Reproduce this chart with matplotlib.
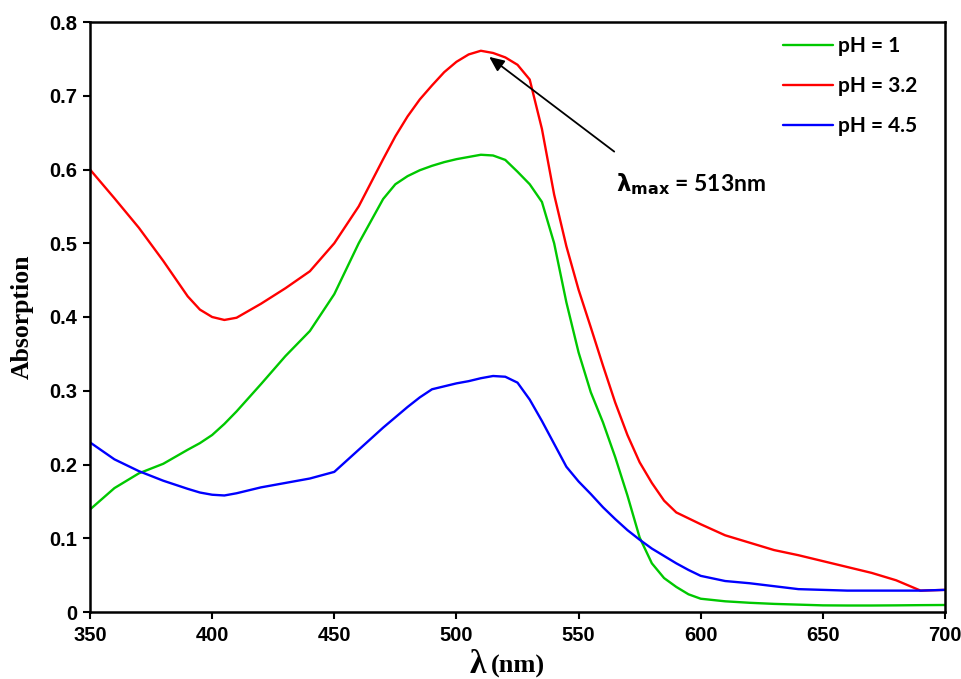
import matplotlib
matplotlib.use("Agg")
import matplotlib.pyplot as plt

wavelength = [350, 360, 370, 380, 390, 395, 400, 405, 410, 420, 430, 440, 450, 460, 465, 470,
              475, 480, 485, 490, 495, 500, 505, 510, 515, 520, 525, 530, 535, 540, 545, 550,
              555, 560, 565, 570, 575, 580, 585, 590, 595, 600, 610, 620, 630, 640, 650, 660,
              670, 680, 690, 700]

ph1 = [0.139, 0.168, 0.188, 0.201, 0.220, 0.229, 0.240, 0.255, 0.272, 0.309, 0.347, 0.381,
       0.431, 0.500, 0.530, 0.560, 0.580, 0.591, 0.599, 0.605, 0.610, 0.614, 0.617, 0.620,
       0.619, 0.613, 0.597, 0.580, 0.556, 0.500, 0.420, 0.352, 0.298, 0.257, 0.210, 0.158,
       0.101, 0.066, 0.046, 0.034, 0.024, 0.018, 0.0145, 0.0125, 0.011, 0.010, 0.009, 0.0088,
       0.0088, 0.009, 0.0093, 0.0095]

ph32 = [0.600, 0.561, 0.521, 0.476, 0.428, 0.410, 0.400, 0.396, 0.399, 0.418, 0.439, 0.462,
        0.500, 0.550, 0.582, 0.614, 0.645, 0.672, 0.695, 0.714, 0.732, 0.746, 0.756, 0.761,
        0.758, 0.752, 0.742, 0.722, 0.655, 0.566, 0.496, 0.437, 0.386, 0.334, 0.284, 0.240,
        0.203, 0.175, 0.151, 0.135, 0.127, 0.119, 0.104, 0.094, 0.084, 0.077, 0.069, 0.061,
        0.053, 0.043, 0.029, 0.030]

ph45 = [0.230, 0.207, 0.191, 0.178, 0.167, 0.162, 0.159, 0.158, 0.161, 0.169, 0.175, 0.181,
        0.190, 0.220, 0.235, 0.250, 0.264, 0.278, 0.291, 0.302, 0.306, 0.310, 0.313, 0.317,
        0.320, 0.319, 0.311, 0.288, 0.259, 0.228, 0.197, 0.177, 0.160, 0.142, 0.126, 0.111,
        0.098, 0.086, 0.076, 0.066, 0.057, 0.049, 0.042, 0.039, 0.035, 0.031, 0.030, 0.029,
        0.029, 0.029, 0.029, 0.030]

series_labels = ["pH = 1", "pH = 3.2", "pH = 4.5"]
series_colors = ["#00C800", "#FF0000", "#0000FF"]

x_ticks = [350, 400, 450, 500, 550, 600, 650, 700]
y_ticks = [0, 0.1, 0.2, 0.3, 0.4, 0.5, 0.6, 0.7, 0.8]
y_tick_labels = ["0", "0.1", "0.2", "0.3", "0.4", "0.5", "0.6", "0.7", "0.8"]

fig = plt.figure(figsize=(9.62, 6.79), dpi=100)
ax = fig.add_axes([90 / 962, 67 / 679, 855 / 962, 590 / 679])

for y, lab, col in zip([ph1, ph32, ph45], series_labels, series_colors):
    ax.plot(wavelength, y, color=col, lw=1.7, label=lab,
            solid_joinstyle="round", solid_capstyle="round")

ax.set_xlim(350, 700)
ax.set_ylim(0, 0.8)
ax.set_xticks(x_ticks)
ax.set_yticks(y_ticks)
ax.set_yticklabels(y_tick_labels)
for s in ax.spines.values():
    s.set_linewidth(1.8)
ax.tick_params(direction="out", length=5, width=1.5)
ax.tick_params(axis="x", pad=5)
ax.tick_params(axis="y", pad=4)
for lbl in ax.get_xticklabels() + ax.get_yticklabels():
    lbl.set_fontfamily("Liberation Sans")
    lbl.set_fontweight("bold")
    lbl.set_fontsize(14.5)

fig.text(22 / 962, 1 - 317 / 679, "Absorption", family="Liberation Serif", weight="bold",
         fontsize=18.5, rotation=90, ha="center", va="center")
fig.text(486 / 962, 1 - 673 / 679, "λ", family="Liberation Serif", weight="bold",
         fontsize=24, ha="right", va="baseline")
fig.text(491 / 962, 1 - 673 / 679, "(nm)", family="Liberation Serif", weight="bold",
         fontsize=19, ha="left", va="baseline")

leg = ax.legend(loc="upper left", bbox_to_anchor=((783 - 90) / 855, (612 - 36) / 590),
                frameon=False, handlelength=2.4, handletextpad=0.25, labelspacing=0.97,
                borderpad=0, borderaxespad=0,
                prop={"family": "Lato", "weight": "bold", "size": 15})
for line in leg.get_lines():
    line.set_linewidth(1.7)

ax.annotate("", xy=(512.5, 0.755), xytext=(565.5, 0.622),
            arrowprops=dict(arrowstyle="-|>,head_length=0.9,head_width=0.4", color="black", lw=1.3))
ax.text(565.5, 0.58, r"$\mathbf{\lambda}_{\mathbf{max}}$" + " = 513nm", fontfamily="Lato",
        fontweight="bold", fontsize=16.5, ha="left", va="center")

fig.savefig("out.png", dpi=100)
